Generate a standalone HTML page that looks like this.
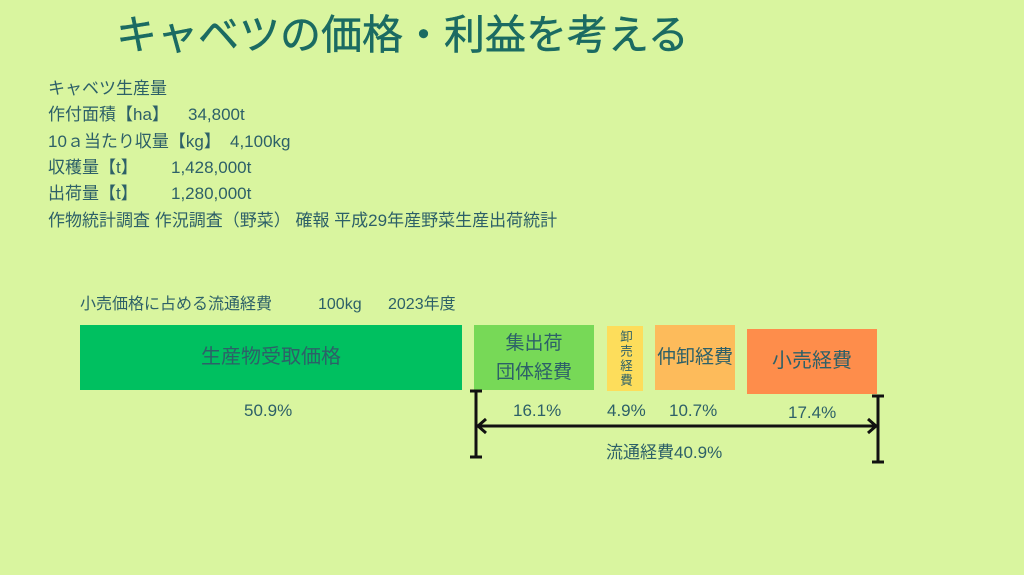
<!DOCTYPE html>
<html><head><meta charset="utf-8"><style>
body{margin:0;width:1024px;height:575px;background:#d9f59f;font-family:"Liberation Sans","Noto Sans CJK JP",sans-serif;color:#2d6068;position:relative;overflow:hidden}
.a{position:absolute;white-space:nowrap}
.t{left:116px;top:15px;font-size:41px;line-height:41px;color:#1b6b62;font-weight:normal;-webkit-text-stroke:0.5px #1b6b62}
.l{font-size:17px;line-height:20px}
.h{font-size:16px;line-height:20px;top:295px}
.b{position:absolute;display:flex;align-items:center;justify-content:center;text-align:center;font-size:19px;line-height:29px}
.p{font-size:17px;position:absolute}
</style></head><body>
<div class="a t">キャベツの価格・利益を考える</div>
<div class="a l" style="left:48px;top:79px">キャベツ生産量</div>
<div class="a l" style="left:48px;top:105px">作付面積【ha】</div><div class="a l" style="left:188px;top:105px">34,800t</div>
<div class="a l" style="left:48px;top:132px">10ａ当たり収量【kg】</div><div class="a l" style="left:230px;top:132px">4,100kg</div>
<div class="a l" style="left:48px;top:158px">収穫量【t】</div><div class="a l" style="left:171px;top:158px">1,428,000t</div>
<div class="a l" style="left:48px;top:184px">出荷量【t】</div><div class="a l" style="left:171px;top:184px">1,280,000t</div>
<div class="a l" style="left:48px;top:211px">作物統計調査 作況調査（野菜） 確報 平成29年産野菜生産出荷統計</div>
<div class="a h" style="left:80px">小売価格に占める流通経費</div>
<div class="a h" style="left:318px">100kg</div>
<div class="a h" style="left:388px">2023年度</div>
<div class="b" style="left:80px;top:325px;width:382px;height:65px;background:#00c060;font-size:20px">生産物受取価格</div>
<div class="b" style="left:474px;top:325px;width:120px;height:65px;background:#77d957">集出荷<br>団体経費</div>
<div class="b" style="left:607px;top:326px;width:36px;height:65px;background:#fddd5b;font-size:12.5px;line-height:14px;letter-spacing:2px;writing-mode:vertical-rl">卸売経費</div>
<div class="b" style="left:655px;top:325px;width:80px;height:65px;background:#fdbb5b">仲卸経費</div>
<div class="b" style="left:747px;top:329px;width:130px;height:65px;background:#fe8d4b;font-size:20px">小売経費</div>
<div class="p" style="left:244px;top:401px">50.9%</div>
<div class="p" style="left:513px;top:401px">16.1%</div>
<div class="p" style="left:607px;top:401px">4.9%</div>
<div class="p" style="left:669px;top:401px">10.7%</div>
<div class="p" style="left:788px;top:403px">17.4%</div>
<div class="p" style="left:606px;top:438px">流通経費40.9%</div>
<svg class="a" style="left:0;top:0" width="1024" height="575">
<g stroke="#111" stroke-width="3" fill="none">
<line x1="476" y1="391" x2="476" y2="457"/><line x1="470" y1="391" x2="482" y2="391"/><line x1="470" y1="457" x2="482" y2="457"/>
<line x1="878" y1="396" x2="878" y2="462"/><line x1="872" y1="396" x2="884" y2="396"/><line x1="872" y1="462" x2="884" y2="462"/>
<line x1="478" y1="426" x2="876" y2="426"/>
<polyline points="486,419 478,426 486,433"/><polyline points="868,419 876,426 868,433"/>
</g></svg>
</body></html>
